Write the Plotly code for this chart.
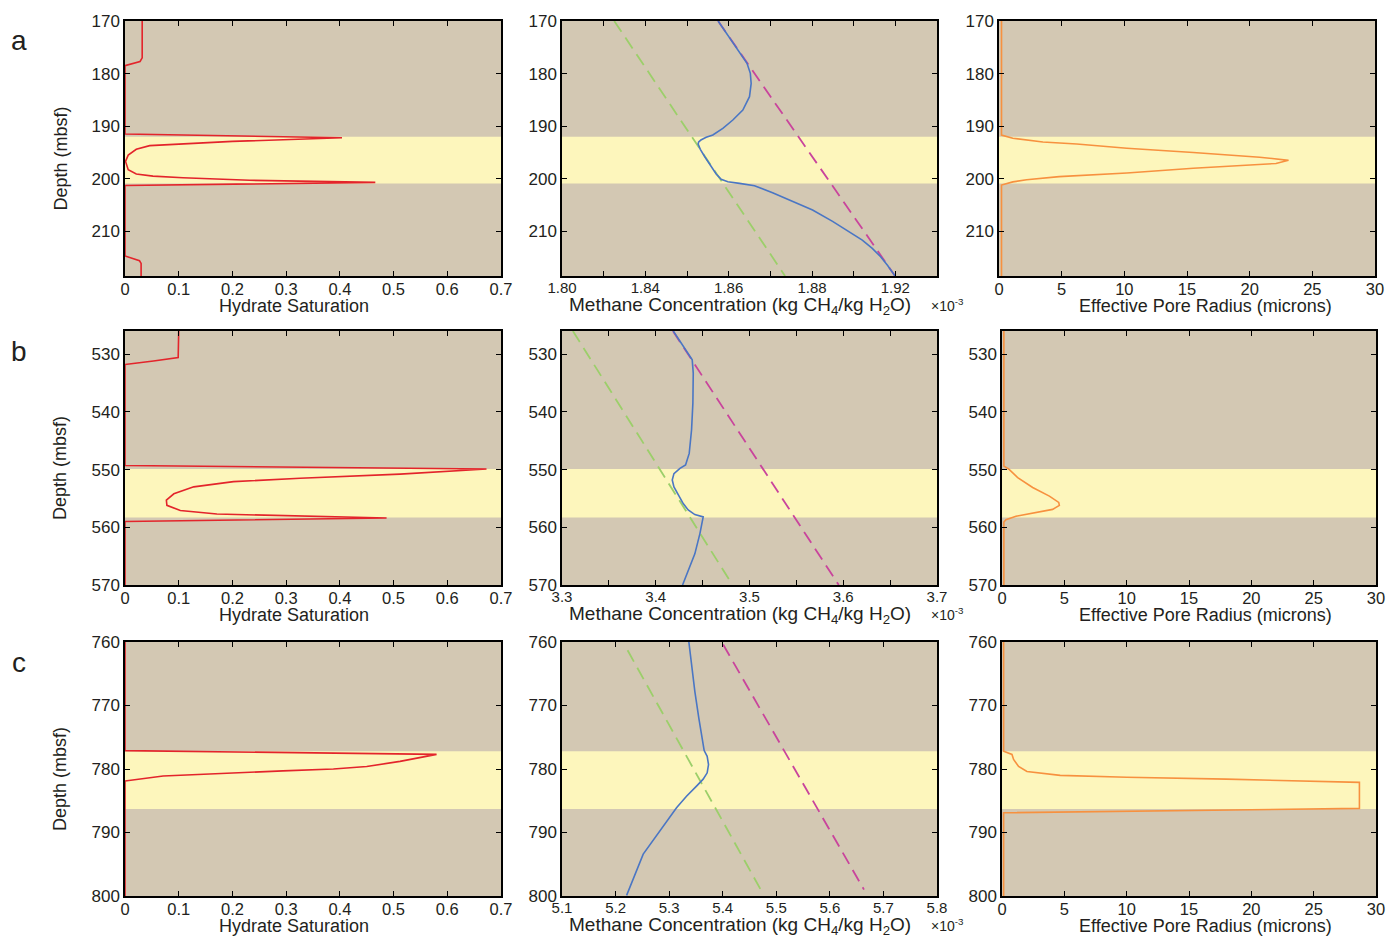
import plotly.graph_objects as go
from plotly.subplots import make_subplots

# ---------------- data ----------------
# Site a (170-218.5 mbsf)
a_sat_depth = [170.0, 177.0, 177.7, 178.5, 191.5, 192.2, 192.9, 193.4, 193.7, 194.4, 195.5, 196.7,
               198.3, 199.1, 199.5, 199.8, 200.3, 200.7, 201.3, 214.7, 215.6, 216.1, 218.5]
a_sat = [0.032, 0.032, 0.028, 0.0, 0.0, 0.404, 0.200, 0.089, 0.046, 0.021, 0.006, 0.001,
         0.006, 0.021, 0.052, 0.108, 0.232, 0.466, 0.0, 0.0, 0.027, 0.030, 0.030]

a_meth_depth = [170.0, 174.0, 178.05, 179.96, 181.86, 184.39, 186.93, 188.83, 190.42, 191.69, 192.13,
                192.64, 193.0, 193.40, 193.9, 194.41, 195.81, 197.71, 199.11, 200.12, 200.56, 200.88,
                201.33, 202.66, 204.24, 205.95, 208.11, 210.08, 211.66, 213.25, 214.83, 216.42, 218.5]
a_meth = [1.8562, 1.8615, 1.8666, 1.8678, 1.8681, 1.8675, 1.8651, 1.8615, 1.8579, 1.8543, 1.8519,
          1.8500, 1.8492, 1.8490, 1.8493, 1.8498, 1.8514, 1.8537, 1.8555, 1.8573, 1.8597, 1.8639,
          1.8693, 1.8758, 1.8830, 1.8902, 1.8974, 1.9034, 1.9081, 1.9117, 1.9147, 1.9171, 1.9199]
a_sol_depth = [170.0, 218.5]
a_sol_hyd = [1.8188, 1.8803]      # green dashed
a_sol_free = [1.8562, 1.9199]     # magenta dashed

a_rad_depth = [170.0, 191.7, 192.3, 193.0, 193.4, 194.2, 195.0, 195.9, 196.5, 197.1, 198.0, 198.9,
               199.6, 200.2, 200.6, 201.2, 218.5]
a_rad = [0.2, 0.2, 1.1, 3.5, 6.2, 10.2, 15.5, 20.8, 23.1, 22.1, 15.5, 10.2, 4.8, 2.2, 1.1, 0.2, 0.2]

# Site b (526-570 mbsf)
b_sat_depth = [526.0, 530.6, 531.2, 531.8, 549.3, 549.9, 550.8, 551.5, 552.1, 553.0, 554.2, 555.3,
               556.2, 557.1, 557.7, 558.1, 558.4, 559.0, 570.0]
b_sat = [0.100, 0.099, 0.053, 0.0, 0.0, 0.673, 0.512, 0.326, 0.202, 0.128, 0.091, 0.077,
         0.078, 0.103, 0.171, 0.326, 0.487, 0.0, 0.0]

b_meth_depth = [526.0, 528.7, 531.0, 533.3, 538.5, 543.1, 547.2, 549.2, 549.8, 550.7, 551.8, 553.0,
                554.4, 555.9, 557.0, 557.8, 558.2, 561.1, 564.6, 567.5, 570.0]
b_meth = [3.4187, 3.4293, 3.4389, 3.4400, 3.4396, 3.4382, 3.4357, 3.4318, 3.4258, 3.4194, 3.4176, 3.4194,
          3.4240, 3.4293, 3.4346, 3.4417, 3.4506, 3.4471, 3.4417, 3.4346, 3.4286]
b_sol_depth = [526.0, 570.0]
b_sol_hyd = [3.3116, 3.4819]
b_sol_free = [3.4183, 3.5952]

b_rad_depth = [526.0, 549.4, 549.9, 551.4, 553.1, 554.6, 555.7, 556.2, 556.9, 557.5, 558.1, 558.7,
               559.1, 570.0]
b_rad = [0.15, 0.15, 0.53, 1.26, 2.46, 3.8, 4.55, 4.6, 4.06, 2.46, 1.12, 0.32, 0.15, 0.15]

# Site c (760-800 mbsf)
c_sat_depth = [760.0, 777.1, 777.7, 778.0, 778.8, 779.6, 780.0, 780.3, 780.8, 781.1, 781.9, 800.0]
c_sat = [0.0, 0.0, 0.580, 0.561, 0.512, 0.450, 0.388, 0.294, 0.139, 0.071, 0.0, 0.0]

c_meth_depth = [760.0, 763.6, 767.8, 772.0, 775.6, 777.1, 778.0, 779.3, 780.6, 781.6, 782.7, 784.3,
                786.1, 789.7, 793.4, 799.9]
c_meth = [5.3368, 5.3418, 5.3480, 5.3554, 5.3623, 5.3654, 5.3710, 5.3735, 5.3710, 5.3635, 5.3511, 5.3324,
          5.3138, 5.2827, 5.2516, 5.2206]
c_sol_hyd_depth = [761.3, 799.0]
c_sol_hyd = [5.2224, 5.4710]
c_sol_free_depth = [760.4, 799.0]
c_sol_free = [5.4008, 5.6637]

c_rad_depth = [760.0, 777.2, 777.7, 778.5, 779.6, 780.4, 781.0, 781.3, 781.6, 782.1, 786.2, 786.5,
               786.9, 800.0]
c_rad = [0.13, 0.13, 0.8, 0.93, 1.33, 2.0, 4.67, 10.0, 18.0, 28.67, 28.67, 15.33, 0.13, 0.13]

# hydrate-bearing intervals (top, base)
bands = [(192.0, 200.9), (549.9, 558.3), (777.2, 786.3)]
depth_ranges = [(218.5, 170.0), (570.0, 526.0), (800.0, 760.0)]
depth_ticks = [[170, 180, 190, 200, 210], [530, 540, 550, 560, 570], [760, 770, 780, 790, 800]]

sat_ticks = [0, 0.1, 0.2, 0.3, 0.4, 0.5, 0.6, 0.7]
sat_labels = ["0", "0.1", "0.2", "0.3", "0.4", "0.5", "0.6", "0.7"]
rad_ticks = [0, 5, 10, 15, 20, 25, 30]

meth_ticks_a = [1.800, 1.815, 1.830, 1.845, 1.860, 1.875, 1.890, 1.905, 1.920]
meth_labels_a = ["1.80", "", "1.84", "", "1.86", "", "1.88", "", "1.92"]
meth_ticks_b = [3.30, 3.35, 3.40, 3.45, 3.50, 3.55, 3.60, 3.65, 3.70]
meth_labels_b = ["3.3", "", "3.4", "", "3.5", "", "3.6", "", "3.7"]
meth_ticks_c = [5.1, 5.2, 5.3, 5.4, 5.5, 5.6, 5.7, 5.8]
meth_labels_c = ["5.1", "5.2", "5.3", "5.4", "5.5", "5.6", "5.7", "5.8"]

# ---------------- styling ----------------
TAN = "#d3c8b3"
YELLOW = "#fdf6bc"
RED = "#e3242b"
ORANGE = "#f7913f"
BLUE = "#4a76c4"
GREEN = "#9ccf6a"
MAGENTA = "#c9449c"
INK = "#231f20"
FONT = "Liberation Sans, Arial, Helvetica, sans-serif"

W, H = 1386, 936
fig = make_subplots(rows=3, cols=3)

row_px = [(21, 276), (331, 585), (642, 896)]
col_px = [[(125, 501), (562, 937), (999, 1375)],
          [(125, 501), (562, 937), (1002, 1376)],
          [(125, 501), (562, 937), (1002, 1376)]]


def line(x, y, color, row, col, dash=None, width=1.6):
    fig.add_trace(go.Scatter(x=x, y=y, mode="lines",
                             line=dict(color=color, width=width, dash=dash),
                             showlegend=False, hoverinfo="skip"), row=row, col=col)


DASH = "13px,7px"
DW = 1.8
# row a
line(a_sat, a_sat_depth, RED, 1, 1)
line(a_sol_hyd, a_sol_depth, GREEN, 1, 2, DASH, DW)
line(a_sol_free, a_sol_depth, MAGENTA, 1, 2, DASH, DW)
line(a_meth, a_meth_depth, BLUE, 1, 2)
line(a_rad, a_rad_depth, ORANGE, 1, 3)
# row b
line(b_sat, b_sat_depth, RED, 2, 1)
line(b_sol_hyd, b_sol_depth, GREEN, 2, 2, DASH, DW)
line(b_sol_free, b_sol_depth, MAGENTA, 2, 2, DASH, DW)
line(b_meth, b_meth_depth, BLUE, 2, 2)
line(b_rad, b_rad_depth, ORANGE, 2, 3)
# row c
line(c_sat, c_sat_depth, RED, 3, 1)
line(c_sol_hyd, c_sol_hyd_depth, GREEN, 3, 2, DASH, DW)
line(c_sol_free, c_sol_free_depth, MAGENTA, 3, 2, DASH, DW)
line(c_meth, c_meth_depth, BLUE, 3, 2)
line(c_rad, c_rad_depth, ORANGE, 3, 3)

axis_common = dict(showgrid=False, zeroline=False, showline=True, linecolor="black", linewidth=1.5,
                   mirror="ticks", ticks="inside", ticklen=5, tickcolor="black", tickwidth=1,
                   automargin=False,
                   tickfont=dict(family=FONT, size=17, color=INK))

x_specs = [
    [dict(range=[0, 0.7], tickvals=sat_ticks, ticktext=sat_labels),
     dict(range=[1.80, 1.935], tickvals=meth_ticks_a, ticktext=meth_labels_a),
     dict(range=[0, 30], tickvals=rad_ticks)],
    [dict(range=[0, 0.7], tickvals=sat_ticks, ticktext=sat_labels),
     dict(range=[3.3, 3.7], tickvals=meth_ticks_b, ticktext=meth_labels_b),
     dict(range=[0, 30], tickvals=rad_ticks)],
    [dict(range=[0, 0.7], tickvals=sat_ticks, ticktext=sat_labels),
     dict(range=[5.1, 5.8], tickvals=meth_ticks_c, ticktext=meth_labels_c),
     dict(range=[0, 30], tickvals=rad_ticks)],
]

for r in range(3):
    y0p, y1p = row_px[r]
    for c in range(3):
        x0p, x1p = col_px[r][c]
        xs = dict(axis_common)
        xs.update(x_specs[r][c])
        xs["domain"] = [x0p / W, x1p / W]
        xs["ticklabelstandoff"] = -3
        xs["tickfont"] = dict(family=FONT, size=15 if c == 1 else 16.5, color=INK)
        fig.update_xaxes(row=r + 1, col=c + 1, **xs)
        ys = dict(axis_common)
        ys.update(range=list(depth_ranges[r]), tickvals=depth_ticks[r],
                  domain=[1 - y1p / H, 1 - y0p / H])
        fig.update_yaxes(row=r + 1, col=c + 1, **ys)
        # hydrate-bearing interval
        k = r * 3 + c + 1
        xr = "x domain" if k == 1 else f"x{k} domain"
        yr = "y" if k == 1 else f"y{k}"
        fig.add_shape(type="rect", xref=xr, yref=yr, x0=0, x1=1,
                      y0=bands[r][0], y1=bands[r][1], fillcolor=YELLOW,
                      line=dict(width=0), layer="below")

annotations = []


def text(x, y, s, size=17, **kw):
    annotations.append(dict(x=x / W, y=1 - y / H, xref="paper", yref="paper", text=s,
                            xanchor="center", yanchor="middle",
                            showarrow=False, font=dict(family=FONT, size=size, color=INK), **kw))


for r, (y0p, y1p) in enumerate(row_px):
    t = y1p + 30
    text(294, t, "Hydrate Saturation", size=18)
    text(740, t, "Methane Concentration (kg CH<sub>4</sub>/kg H<sub>2</sub>O)", size=19)
    text(947, t - 1, "×10<sup>-3</sup>", size=14)
    text(1205, t, "Effective Pore Radius (microns)", size=18)
    text(60, (y0p + y1p) / 2 + 10, "Depth (mbsf)", size=18, textangle=-90)
    text(19, y0p + 20, "abc"[r], size=28)

fig.update_layout(width=W, height=H, autosize=False, margin=dict(l=0, r=0, t=0, b=0, pad=0),
                  paper_bgcolor="white", plot_bgcolor=TAN, annotations=annotations,
                  showlegend=False, font=dict(family=FONT, color=INK))

fig.write_html("out.html")
